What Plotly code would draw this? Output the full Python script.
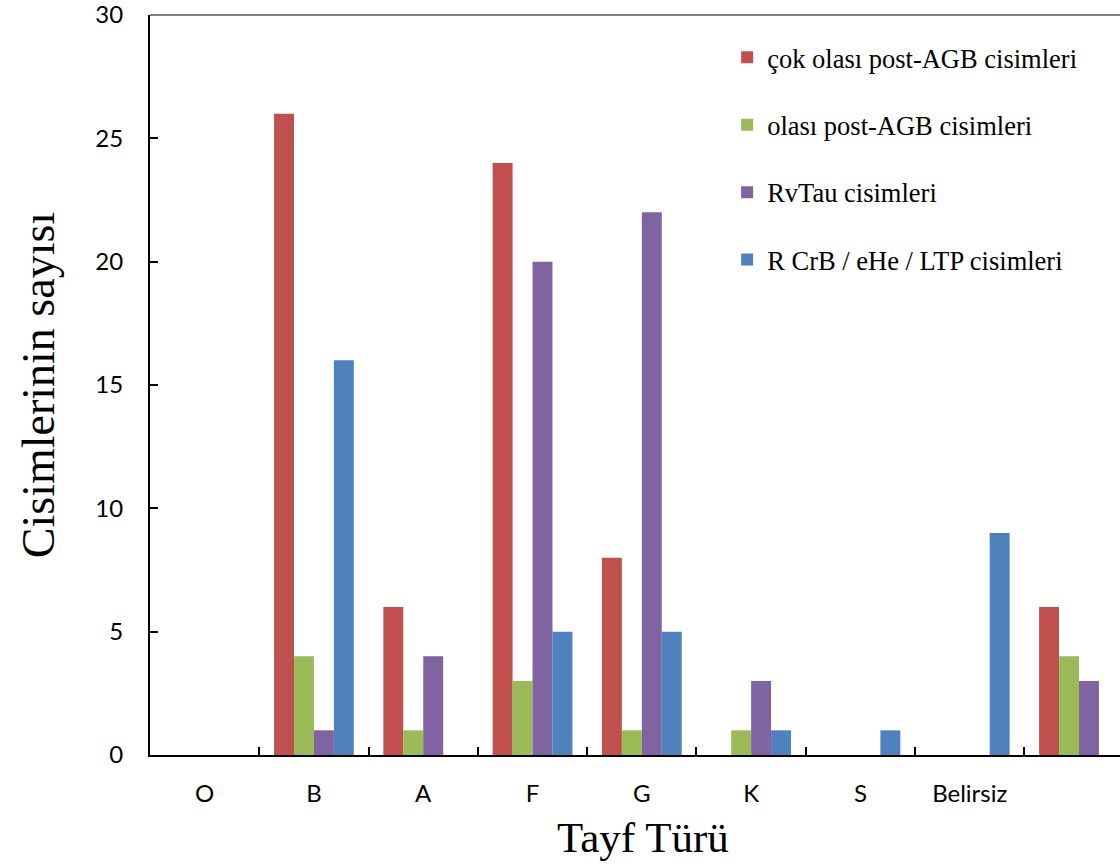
import plotly.graph_objects as go

# Spectral type categories (the last group carries no label)
categories = ["O", "B", "A", "F", "G", "K", "S", "Belirsiz", " "]

# Object counts per spectral type
cok_olasi_post_agb = [0, 26, 6, 24, 8, 0, 0, 0, 6]
olasi_post_agb = [0, 4, 1, 3, 1, 1, 0, 0, 4]
rvtau = [0, 1, 4, 20, 22, 3, 0, 0, 3]
rcrb_ehe_ltp = [0, 16, 0, 5, 5, 1, 1, 9, 0]

series = [
    ("çok olası post-AGB cisimleri", cok_olasi_post_agb, "#C0504D"),
    ("olası post-AGB cisimleri", olasi_post_agb, "#9BBB59"),
    ("RvTau cisimleri", rvtau, "#8064A2"),
    ("R CrB / eHe / LTP cisimleri", rcrb_ehe_ltp, "#4F81BD"),
]

fig = go.Figure()
for i, (name, vals, color) in enumerate(series):
    fig.add_trace(go.Bar(
        x=categories, y=vals, name=name,
        marker=dict(color=color, line=dict(width=0)),
        legendgroup=f"g{i}",
    ))

serif = "Liberation Serif, Times New Roman, serif"
sans = "Lato, Liberation Sans, Arial, sans-serif"

fig.update_layout(
    width=1120, height=864,
    margin=dict(l=150, r=0, t=15, b=109),
    paper_bgcolor="white", plot_bgcolor="white",
    barmode="group", bargap=0.27, bargroupgap=0,
    showlegend=True,
    legend=dict(
        x=0.595, y=0.975, xanchor="left", yanchor="top",
        font=dict(family=serif, size=26.5, color="black"),
        traceorder="grouped", tracegroupgap=30,
        bgcolor="rgba(0,0,0,0)",
    ),
    xaxis=dict(
        type="category",
        range=[-0.5, 8.375],
        tickson="boundaries",
        ticks="inside", ticklen=8, tickwidth=1.5, tickcolor="black",
        showline=True, linecolor="black", linewidth=2, mirror=False,
        showgrid=False, zeroline=False,
        tickfont=dict(family=sans, size=24, color="black"),
        ticklabelstandoff=16,
    ),
    yaxis=dict(
        range=[0, 30], dtick=5,
        ticks="inside", ticklen=8, tickwidth=1.5, tickcolor="black",
        showline=True, linecolor="black", linewidth=2,
        showgrid=False, zeroline=False,
        tickfont=dict(family=sans, size=24, color="black"),
        ticklabelstandoff=20, ticklabeloverflow="allow",
        title=dict(text="Cisimlerinin sayısı", font=dict(family=serif, size=46, color="black"), standoff=26),
    ),
    annotations=[dict(
        text="Tayf Türü", xref="paper", yref="paper", x=0.508, y=-0.112,
        xanchor="center", yanchor="middle", showarrow=False,
        font=dict(family=serif, size=43, color="black"),
    )],
    shapes=[dict(type="line", xref="paper", yref="paper", x0=0, x1=1, y0=1, y1=1,
                 line=dict(color="#555555", width=1.5))],
)

fig.write_html("out.html")
